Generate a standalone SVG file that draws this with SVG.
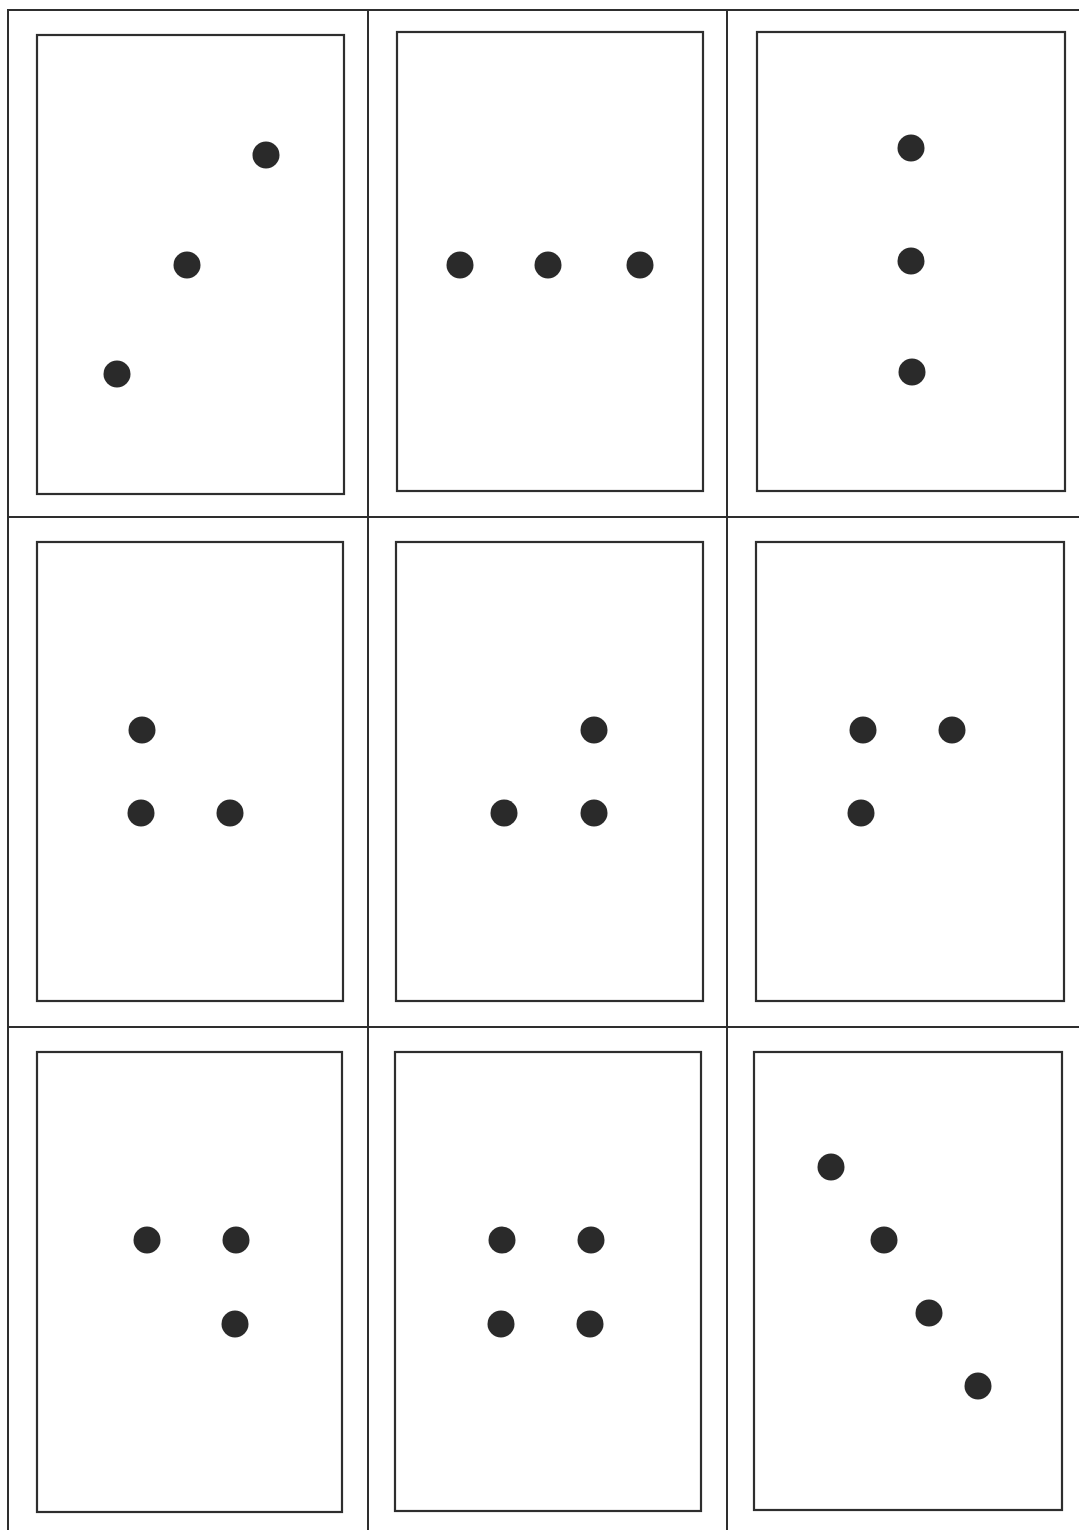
<svg xmlns="http://www.w3.org/2000/svg" width="1079" height="1530" viewBox="0 0 1079 1530">
<style>
.frame{fill:none;stroke:#2e2e2e;stroke-width:2}
.card{fill:#fff;stroke:#2e2e2e;stroke-width:2.2}
.dot{fill:#2a2a2a}
</style>
<rect width="1079" height="1530" fill="#fff"/>
<g id="grid">
<path class="frame" d="M8,1530 V10 H1079 M368,10 V1530 M727,10 V1530 M8,517 H1079 M8,1027 H1079"/>
</g>
<g id="card1"><rect class="card" x="37" y="35" width="307" height="459"/>
<circle class="dot" cx="266" cy="155" r="13.5"/><circle class="dot" cx="187" cy="265" r="13.5"/><circle class="dot" cx="117" cy="374" r="13.5"/></g>
<g id="card2"><rect class="card" x="397" y="32" width="306" height="459"/>
<circle class="dot" cx="460" cy="265" r="13.5"/><circle class="dot" cx="548" cy="265" r="13.5"/><circle class="dot" cx="640" cy="265" r="13.5"/></g>
<g id="card3"><rect class="card" x="757" y="32" width="308" height="459"/>
<circle class="dot" cx="911" cy="148" r="13.5"/><circle class="dot" cx="911" cy="261" r="13.5"/><circle class="dot" cx="912" cy="372" r="13.5"/></g>
<g id="card4"><rect class="card" x="37" y="542" width="306" height="459"/>
<circle class="dot" cx="142" cy="730" r="13.5"/><circle class="dot" cx="141" cy="813" r="13.5"/><circle class="dot" cx="230" cy="813" r="13.5"/></g>
<g id="card5"><rect class="card" x="396" y="542" width="307" height="459"/>
<circle class="dot" cx="594" cy="730" r="13.5"/><circle class="dot" cx="504" cy="813" r="13.5"/><circle class="dot" cx="594" cy="813" r="13.5"/></g>
<g id="card6"><rect class="card" x="756" y="542" width="308" height="459"/>
<circle class="dot" cx="863" cy="730" r="13.5"/><circle class="dot" cx="952" cy="730" r="13.5"/><circle class="dot" cx="861" cy="813" r="13.5"/></g>
<g id="card7"><rect class="card" x="37" y="1052" width="305" height="460"/>
<circle class="dot" cx="147" cy="1240" r="13.5"/><circle class="dot" cx="236" cy="1240" r="13.5"/><circle class="dot" cx="235" cy="1324" r="13.5"/></g>
<g id="card8"><rect class="card" x="395" y="1052" width="306" height="459"/>
<circle class="dot" cx="502" cy="1240" r="13.5"/><circle class="dot" cx="591" cy="1240" r="13.5"/><circle class="dot" cx="501" cy="1324" r="13.5"/><circle class="dot" cx="590" cy="1324" r="13.5"/></g>
<g id="card9"><rect class="card" x="754" y="1052" width="308" height="458"/>
<circle class="dot" cx="831" cy="1167" r="13.5"/><circle class="dot" cx="884" cy="1240" r="13.5"/><circle class="dot" cx="929" cy="1313" r="13.5"/><circle class="dot" cx="978" cy="1386" r="13.5"/></g>
</svg>
